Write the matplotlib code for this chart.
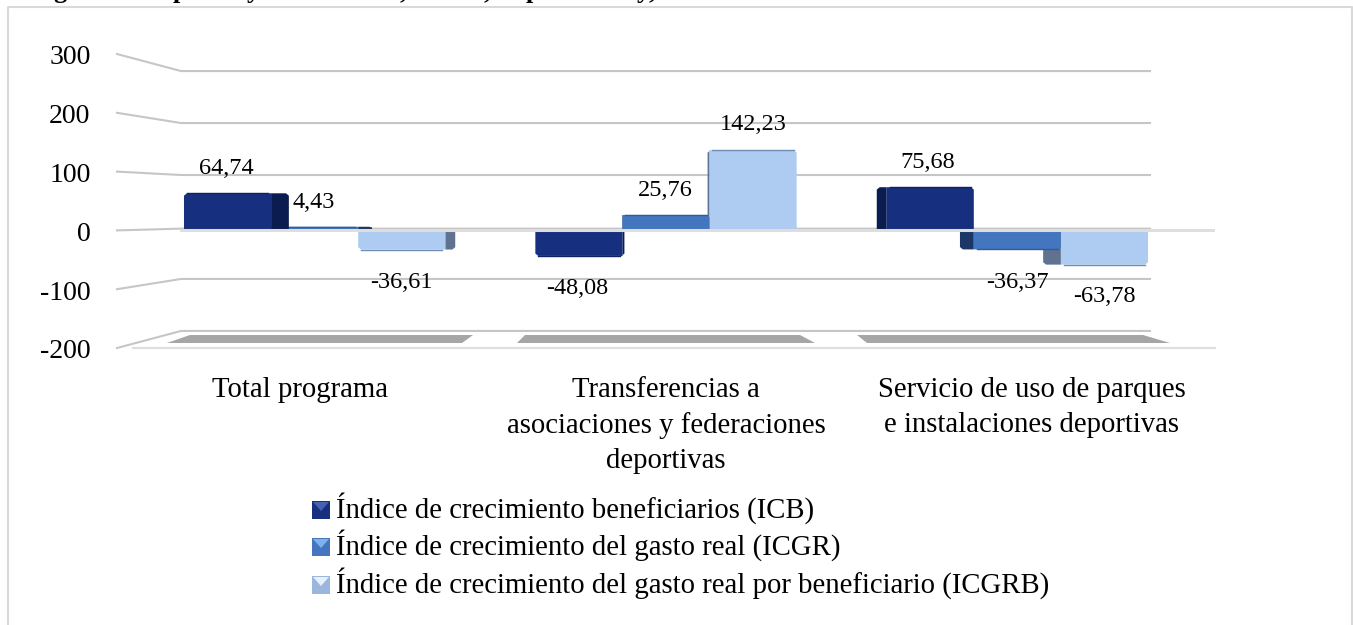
import matplotlib
matplotlib.use("Agg")
import matplotlib.pyplot as plt
from matplotlib.patches import Polygon, Rectangle
from matplotlib.transforms import ScaledTranslation

plt.rcParams['font.family'] = ['Liberation Serif', 'DejaVu Serif']

categories = ["Total programa",
              "Transferencias a\nasociaciones y federaciones\ndeportivas",
              "Servicio de uso de parques\ne instalaciones deportivas"]
series_names = ["Índice de crecimiento beneficiarios (ICB)",
                "Índice de crecimiento del gasto real (ICGR)",
                "Índice de crecimiento del gasto real por beneficiario (ICGRB)"]
icb = [64.74, -48.08, 75.68]
icgr = [4.43, 25.76, -36.37]
icgrb = [-36.61, 142.23, -63.78]
y_ticks = [-200, -100, 0, 100, 200, 300]

# the title is cut off by the crop, only these tails can be seen
title_tails = ["g", "p", "y", ",", ",", "p", "y", ","]
title_tails_x = [60, 180, 253, 403, 487, 533, 643, 652]

face_colors = ["#16307f", "#4476c0", "#aecbf2"]
side_colors = ["#0b1c50", "#1c3766", "#5f7390"]
edge_colors = ["#0e2263", "#2f5a9c", "#6f8db5"]
grid_color = "#c6c6c6"

W, H = 1353, 625
fig = plt.figure(figsize=(W / 100, H / 100), dpi=100, facecolor="white")

# pixel overlay for frame, title tails, shadows and text
bg = fig.add_axes([0, 0, 1, 1], zorder=0)
bg.set_xlim(0, W)
bg.set_ylim(H, 0)
bg.axis("off")
bg.plot([7.5, 7.5, 1352, 1352], [H, 7, 7, H], color="#d9d9d9", lw=1.5)
for ch, tx in zip(title_tails, title_tails_x):
    bg.text(tx, -2, ch, fontsize=19, fontweight="bold", ha="center", va="baseline")

# floor shadows
shadows = [[(190, 335), (473, 335), (462, 343), (167, 343)],
           [(525, 335), (800, 335), (815, 343), (517, 343)],
           [(857, 335), (1143, 335), (1170, 343), (867, 343)]]
for pts in shadows:
    bg.add_patch(Polygon(pts, closed=True, fc="#a6a6a6", ec="none"))

# front plane: y ticks run from 54px (300) to 348px (-200), x from 117 to 1215
ax = fig.add_axes([117 / W, 1 - 348 / H, 1098 / W, 294 / H], zorder=1)
ax.set_xlim(-0.5, 2.5)
ax.set_ylim(-200, 300)
ax.patch.set_alpha(0)
for s in ax.spines.values():
    s.set_visible(False)
ax.set_xticks([])
ax.set_yticks(y_ticks)
ax.tick_params(axis="y", length=0, labelsize=20, pad=19)
ax.set_yticklabels([str(t) for t in y_ticks])
for lab in ax.get_yticklabels():
    lab.set_transform(lab.get_transform() + ScaledTranslation(0, -1 / 100, fig.dpi_scale_trans))

# depth: the back wall is smaller than the front plane
x_left = -0.5 + 64 / 366
x_right = 2.5 - 65 / 366
for t in y_ticks:
    by = 5.8 + t * 0.884
    if t == 0:
        by = 3
    ax.plot([-0.5, x_left, x_right], [t, by, by], color=grid_color, lw=1.5, zorder=1, clip_on=False)
ax.plot([x_left, 2.5], [0, 0], color="#dedede", lw=2.2, zorder=6)
ax.plot([x_left - 0.13, 2.5], [-200, -200], color="#dedede", lw=1.6, zorder=2, clip_on=False)

bar_scale = 0.944
bar_w = 0.238
base = 2
group_x = [0.04, 1.0, 1.96]
offsets = [-bar_w, 0, bar_w]
depth = 0.045
all_vals = [icb, icgr, icgrb]

for s, vals in enumerate(all_vals):
    for i, v in enumerate(vals):
        xc = group_x[i] + offsets[s]
        x0 = xc - bar_w / 2
        x1 = xc + bar_w / 2
        top = base + v * bar_scale
        z = 4 - s * 0.1
        rx = 0.008
        ry = 4.0 if v > 0 else -4.0
        ry = ry if abs(v) > 8 else ry / 4
        # perspective side, always towards the middle of the chart
        right_side = x1 < 1
        sx = x1 if right_side else x0
        d = depth * (1 - sx)
        ax.add_patch(Polygon([(sx, base), (sx + d, base), (sx + d, top - ry),
                              (sx + d - rx * (1 if d > 0 else -1), top), (sx, top)],
                             closed=True, fc=side_colors[s], ec="none", zorder=z))
        # face, only the outer corner at the far end is rounded off
        if right_side:
            face = [(x0, base), (x0, top - ry), (x0 + rx, top), (x1, top), (x1, base)]
        else:
            face = [(x0, base), (x0, top), (x1 - rx, top), (x1, top - ry), (x1, base)]
        ax.add_patch(Polygon(face, closed=True, fc=face_colors[s], ec="none", zorder=z + 0.01))
        ax.plot([x0 + rx, x1 - rx], [top, top], color=edge_colors[s], lw=1, zorder=z + 0.02)

# data labels, placed by hand like in the original (pixels)
label_x = [[226, 577, 928], [314, 665, 1017], [401, 753, 1104]]
label_y = [[169, 288, 162], [202, 190, 282], [282, 125, 297]]
for s, vals in enumerate(all_vals):
    for i, v in enumerate(vals):
        ax.text(label_x[s][i], label_y[s][i], f"{v:.2f}".replace(".", ","), fontsize=17.5,
                ha="center", va="center", zorder=8, transform=bg.transData, clip_on=False)

for i, c in enumerate(categories):
    bg.text(300 + 366 * i, 377, c, fontsize=20.7, ha="center", va="top", linespacing=1.44)

# legend, squares with bevel facets
leg_y = [518, 555, 593]
leg_top = [501, 538, 576]
leg_light = ["#4462b0", "#7fb0ea", "#e8f0fb"]
for s, name in enumerate(series_names):
    y = leg_top[s]
    bg.add_patch(Rectangle((312, y), 18, 18, fc=face_colors[s] if s < 2 else "#9ab6dc", ec="none"))
    bg.add_patch(Polygon([(313, y + 1), (329, y + 1), (321, y + 10)], closed=True,
                         fc=leg_light[s], ec="none"))
    bg.text(336, leg_y[s], name, fontsize=20.7, ha="left", va="baseline")

fig.savefig("out.png", dpi=100)
